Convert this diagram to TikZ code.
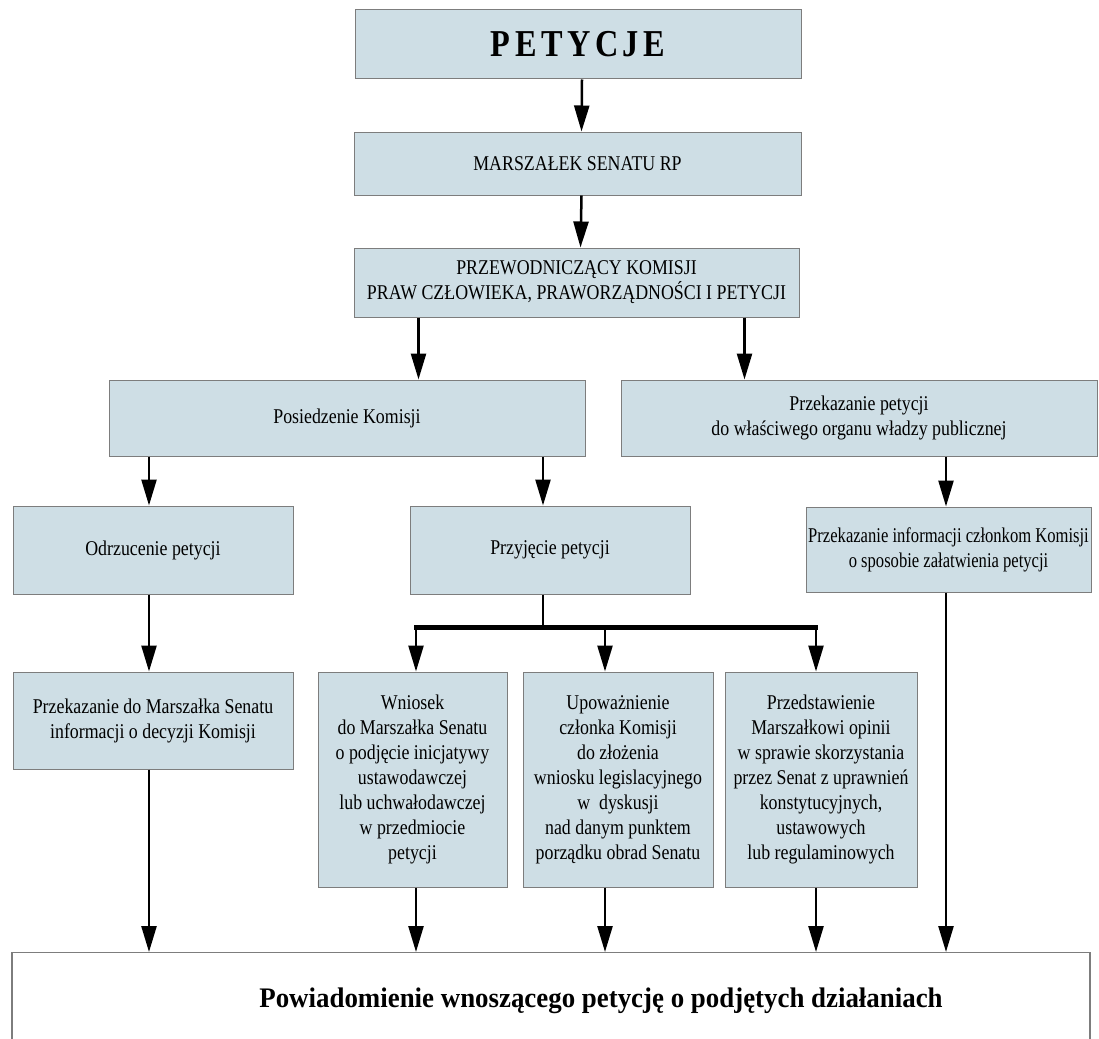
\documentclass[tikz,border=0pt]{standalone}
\usepackage{fontspec}
\setmainfont{Liberation Serif}[FakeStretch=0.85]
\newfontfamily\widefont{Liberation Serif}[FakeStretch=0.95]
\newfontfamily\narrowfont{Liberation Serif}[FakeStretch=0.79]
\usetikzlibrary{arrows.meta}
\definecolor{boxfill}{RGB}{206,222,229}
\definecolor{boxline}{RGB}{125,125,125}

\begin{document}
\begin{tikzpicture}[x=1pt,y=-1pt,
  box/.style={draw=boxline,line width=1pt,fill=boxfill,inner sep=0pt,align=center,font=\fontsize{21}{25}\selectfont},
  arr/.style={line width=2.5pt,-{Triangle[length=26pt,width=15pt]}},
  bus/.style={line width=4.5pt,line cap=rect}]
\useasboundingbox (0,0) rectangle (1099,1038);
\node [box,minimum width=446pt,minimum height=69pt] (pet) at (578,44.5)
  {\fontsize{38}{40}\selectfont\bfseries\addfontfeature{LetterSpace=12}PETYCJE};
\node [box,minimum width=447pt,minimum height=63pt] (mar) at (577.5,163.5) {MARSZAŁEK SENATU RP};
\node [box,minimum width=445pt,minimum height=69pt] (prz) at (576.5,282.5)
  {PRZEWODNICZĄCY KOMISJI\\PRAW CZŁOWIEKA, PRAWORZĄDNOŚCI I PETYCJI};
\node [box,minimum width=476pt,minimum height=76pt] (pos) at (347,418) {Posiedzenie Komisji};
\node [box,minimum width=476pt,minimum height=76pt] (prk) at (859,418)
  {Przekazanie petycji\\do właściwego organu władzy publicznej};
\node [box,minimum width=280pt,minimum height=88pt] (odr) at (153,550) {Odrzucenie petycji};
\node [box,minimum width=280pt,minimum height=88pt] (pry) at (550,550) {Przyjęcie petycji};
\node [box,minimum width=285pt,minimum height=85pt] (inf) at (948.5,549.5)
  {\narrowfont Przekazanie informacji członkom Komisji\\\narrowfont o sposobie załatwienia petycji};
\node [box,minimum width=280pt,minimum height=97pt] (dec) at (153,720.5)
  {Przekazanie do Marszałka Senatu\\informacji o decyzji Komisji};
\node [box,minimum width=189pt,minimum height=215pt] (wni) at (412.5,779.5)
  {Wniosek\\do Marszałka Senatu\\o podjęcie inicjatywy\\ustawodawczej\\lub uchwałodawczej\\w przedmiocie\\petycji};
\node [box,minimum width=190pt,minimum height=215pt] (upo) at (618,779.5)
  {Upoważnienie\\członka Komisji\\do złożenia\\wniosku legislacyjnego\\w~~dyskusji\\nad danym punktem\\porządku obrad Senatu};
\node [box,minimum width=192pt,minimum height=215pt] (prd) at (821,779.5)
  {Przedstawienie\\Marszałkowi opinii\\w sprawie skorzystania\\przez Senat z uprawnień\\konstytucyjnych,\\ustawowych\\lub regulaminowych};
\node [draw=boxline,line width=1.2pt,fill=white,inner sep=0pt,minimum width=1078pt,minimum height=96pt,
  anchor=north,font=\widefont\fontsize{28.3}{31}\selectfont\bfseries] (pow) at (551,952)
  {\hspace*{100pt}Powiadomienie wnoszącego petycję o podjętych działaniach};

% top
\draw[arr] ([xshift=4pt]pet.south) -- ([xshift=4pt]mar.north);
\draw[arr] ([xshift=4pt]mar.south) -- ([xshift=4pt]prz.north);
\draw[arr] ([xshift=65pt]prz.south west) -- ([xshift=65pt]prz.south west |- pos.north);
\draw[arr] ([xshift=-55pt]prz.south east) -- ([xshift=-55pt]prz.south east |- prk.north);
% middle
\draw[arr] ([xshift=-4pt]odr.north |- pos.south) -- ([xshift=-4pt]odr.north);
\draw[arr] ([xshift=-7pt]pry.north |- pos.south) -- ([xshift=-7pt]pry.north);
\draw[arr] ([xshift=-2.5pt]inf.north |- prk.south) -- ([xshift=-2.5pt]inf.north);
\draw[arr] ([xshift=-4pt]odr.south) -- ([xshift=-4pt]dec.north);
% bus
\coordinate (b) at ([xshift=-7pt,yshift=-33pt]pry.south);
\draw[line width=2.5pt] ([xshift=-7pt]pry.south) -- (b);
\draw[bus] ([xshift=3.5pt]wni.north |- b) -- ([xshift=-5pt]prd.north |- b);
\draw[arr] ([xshift=3.5pt]wni.north |- b) -- ([xshift=3.5pt]wni.north);
\draw[arr] ([xshift=-13pt]upo.north |- b) -- ([xshift=-13pt]upo.north);
\draw[arr] ([xshift=-5pt]prd.north |- b) -- ([xshift=-5pt]prd.north);
% bottom
\draw[arr] ([xshift=-4pt]dec.south) -- ([xshift=-4pt]dec.south |- pow.north);
\draw[arr] ([xshift=3.5pt]wni.south) -- ([xshift=3.5pt]wni.south |- pow.north);
\draw[arr] ([xshift=-13pt]upo.south) -- ([xshift=-13pt]upo.south |- pow.north);
\draw[arr] ([xshift=-5pt]prd.south) -- ([xshift=-5pt]prd.south |- pow.north);
\draw[arr] ([xshift=-2.5pt]inf.south) -- ([xshift=-2.5pt]inf.south |- pow.north);
\end{tikzpicture}
\end{document}
